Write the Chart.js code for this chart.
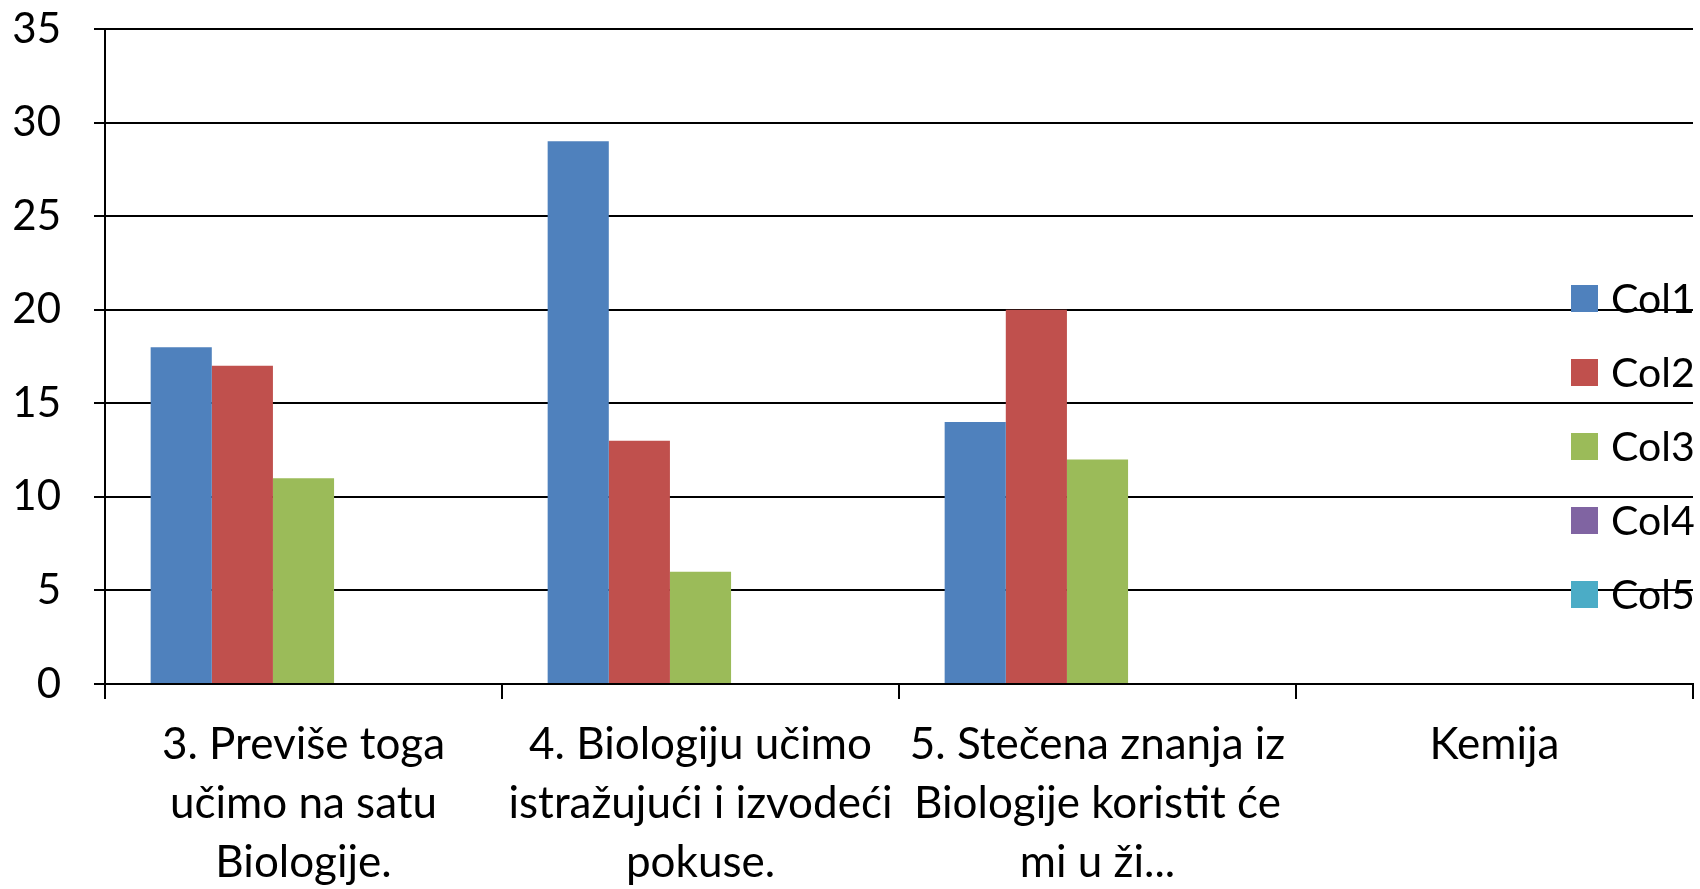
<!DOCTYPE html>
<html><head><meta charset="utf-8">
<script src="https://cdn.jsdelivr.net/npm/chart.js@4"></script>
<style>html,body{margin:0;padding:0;background:#fff;overflow:hidden}</style>
</head><body><canvas id="c" width="1700" height="889" style="width:1700px;height:889px;display:block"></canvas>
<script>
const categories = [["3. Previše toga","učimo na satu","Biologije."],["4. Biologiju učimo","istražujući i izvodeći","pokuse."],["5. Stečena znanja iz","Biologije koristit će","mi u ži..."],"Kemija"];
const seriesNames = ["Col1","Col2","Col3","Col4","Col5"];
const col1 = [18,29,14,null];
const col2 = [17,13,20,null];
const col3 = [11,6,12,null];
const col4 = [null,null,null,null];
const col5 = [null,null,null,null];
const seriesColors = ["#4F81BD","#C0504D","#9BBB59","#8064A2","#4BACC6"];
const yMin = 0, yMax = 35, yStep = 5;

const FONT = "Lato, 'Open Sans', sans-serif";
const allSeries = [col1,col2,col3,col4,col5];

const legendPlugin = {
  id:'customLegend',
  afterDraw(chart){
    const ctx = chart.ctx, area = chart.chartArea;
    ctx.save();
    ctx.font = "41px " + FONT;
    ctx.textBaseline = 'middle';
    const sq = 27, x0 = area.right - 122, yStart = 298.5, gap = 74;
    chart.data.datasets.forEach((ds,i)=>{
      const cy = yStart + i*gap;
      ctx.fillStyle = ds.backgroundColor;
      ctx.fillRect(x0, cy - sq/2, sq, sq);
      ctx.fillStyle = '#000';
      ctx.fillText(ds.label, x0 + sq + 13, cy + 1);
    });
    ctx.restore();
  }
};

new Chart(document.getElementById('c'), {
  type:'bar',
  data:{
    labels: categories,
    datasets: seriesNames.map((n,i)=>({label:n, data:allSeries[i], backgroundColor:seriesColors[i], borderWidth:0, categoryPercentage:0.77, barPercentage:1.0}))
  },
  options:{
    responsive:false, animation:false, devicePixelRatio:1,
    layout:{padding:{top:29,right:7,left:0,bottom:0}},
    plugins:{legend:{display:false}, tooltip:{enabled:false}},
    scales:{
      x:{
        grid:{display:true, drawOnChartArea:false, drawTicks:true, tickLength:15, color:'#000', lineWidth:2, offset:true},
        border:{display:true, color:'#000', width:2},
        ticks:{color:'#000', font:{family:FONT, size:44, lineHeight:1.34}, maxRotation:0, minRotation:0, autoSkip:false, padding:16},
        afterFit(s){ s.height = 205; s.paddingLeft = 0; s.paddingRight = 0; }
      },
      y:{
        min:yMin, max:yMax,
        grid:{color:'#000', lineWidth:2, tickLength:11},
        border:{display:true, color:'#000', width:2},
        ticks:{stepSize:yStep, color:'#000', font:{family:FONT, size:42}, padding:33},
        afterFit(s){ s.width = 105; s.paddingTop = 0; s.paddingBottom = 0; }
      }
    }
  },
  plugins:[legendPlugin]
});
</script></body></html>
